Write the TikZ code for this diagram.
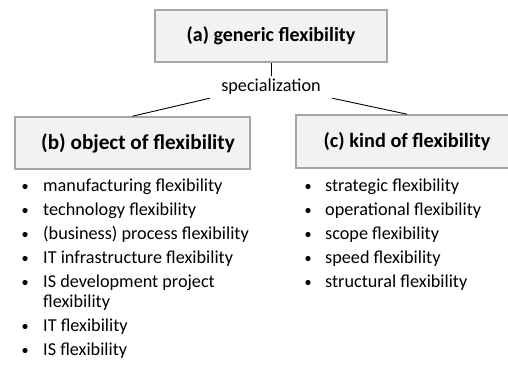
\documentclass[tikz,border=0pt]{standalone}
\usepackage{fontspec}
\setmainfont{Carlito}
\definecolor{boxfill}{HTML}{F2F2F2}
\definecolor{boxline}{HTML}{A6A6A6}
\begin{document}
\begin{tikzpicture}[x=1pt,y=-1pt,
  catbox/.style={draw=boxline,line width=1.6pt,fill=boxfill,inner sep=0pt,
    font=\fontsize{20}{24}\selectfont\bfseries},
  item/.style={anchor=base west,inner sep=0pt,align=left,
    font=\fontsize{18.2}{20}\selectfont},
  dot/.style={fill=black},
  conn/.style={draw=black,line width=0.9pt}]
\clip (0,0) rectangle (508,376);
\fill[white] (0,0) rectangle (508,376);
% boxes
\node[catbox,minimum width=232pt,minimum height=52pt] (a) at (271,36) {(a) generic flexibility};
\node[catbox,minimum width=235pt,minimum height=52pt,font=\fontsize{21.2}{25}\selectfont\bfseries] (b) at (132.5,143) {\hspace*{11pt}(b) object of flexibility};
\node[catbox,minimum width=222pt,minimum height=53pt,font=\fontsize{20.3}{24}\selectfont\bfseries] (c) at (407,141.5) {(c) kind of flexibility};
\node[inner sep=0pt,minimum width=122pt,minimum height=22pt,font=\fontsize{18.2}{20}\selectfont] (spec) at (271,87) {specialization};
% connectors
\draw[conn] (a.south) -- (spec.north);
\draw[conn] (spec.south west) -- (b.north);
\draw[conn] (spec.south east) -- (c.north);
% left list
\foreach \y/\t [count=\i] in {191/manufacturing flexibility,215/technology flexibility,239/(business) process flexibility,263/IT infrastructure flexibility,287/IS development project,331/IT flexibility,355/IS flexibility}{
  \fill[dot] (25,\y-4.5) circle (2.6pt);
  \node[item] (l\i) at (43,\y) {\t};
}
\node[item] (l5b) at (43,307) {flexibility};
% right list
\foreach \y/\t [count=\i] in {191/strategic flexibility,215/operational flexibility,239/scope flexibility,263/speed flexibility,287/structural flexibility}{
  \fill[dot] (308,\y-4.5) circle (2.6pt);
  \node[item] (r\i) at (325,\y) {\t};
}
\end{tikzpicture}
\end{document}
